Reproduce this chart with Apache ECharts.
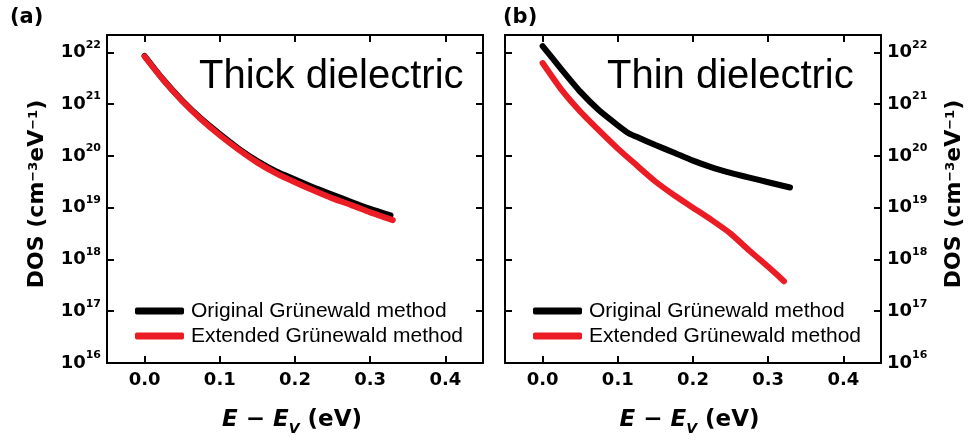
<!DOCTYPE html>
<html>
<head>
<meta charset="utf-8">
<script src="https://cdn.jsdelivr.net/npm/echarts@6/dist/echarts.min.js"></script>
<style>
html, body { margin: 0; padding: 0; background: #fff; }
#chart { width: 971px; height: 443px; }
</style>
</head>
<body>
<div id="chart"></div>
<script>
// energy E - Ev (eV) and DOS (cm^-3 eV^-1)
const thickOrigEnergy = [0, 0.025, 0.05, 0.075, 0.1, 0.125, 0.15, 0.175, 0.2, 0.225, 0.25, 0.275, 0.3, 0.327];
const thickOrigDos = [8.5e21, 2.95e21, 1.17e21, 5.25e20, 2.63e20, 1.38e20, 7.9e19, 5.0e19, 3.5e19, 2.45e19, 1.78e19, 1.29e19, 9.5e18, 7.1e18];
const thickExtEnergy = [0, 0.025, 0.05, 0.075, 0.1, 0.125, 0.15, 0.175, 0.2, 0.225, 0.25, 0.275, 0.3, 0.33];
const thickExtDos = [8.3e21, 2.9e21, 1.15e21, 5.1e20, 2.5e20, 1.32e20, 7.4e19, 4.6e19, 3.1e19, 2.14e19, 1.51e19, 1.12e19, 8.1e18, 5.75e18];

const thinOrigEnergy = [0, 0.025, 0.05, 0.075, 0.1, 0.115, 0.125, 0.15, 0.175, 0.2, 0.225, 0.25, 0.275, 0.3, 0.329];
const thinOrigDos = [1.32e22, 4.7e21, 1.74e21, 7.6e20, 3.9e20, 2.7e20, 2.34e20, 1.62e20, 1.15e20, 8.1e19, 6.0e19, 4.7e19, 3.8e19, 3.1e19, 2.45e19];
const thinExtEnergy = [0, 0.025, 0.05, 0.075, 0.1, 0.125, 0.15, 0.175, 0.2, 0.225, 0.25, 0.275, 0.3, 0.321];
const thinExtDos = [6.2e21, 1.9e21, 7.2e20, 3.1e20, 1.38e20, 6.6e19, 3.2e19, 1.74e19, 1.0e19, 5.75e18, 3.16e18, 1.48e18, 7.2e17, 3.8e17];

const xTicks = [0, 0.1, 0.2, 0.3, 0.4];
const yTicks = [1e16, 1e17, 1e18, 1e19, 1e20, 1e21, 1e22];
const seriesNames = ['Original Grünewald method', 'Extended Grünewald method'];
const panelTitles = ['Thick dielectric', 'Thin dielectric'];
const panelTags = ['(a)', '(b)'];

const xMin = -0.05, xMax = 0.45;
const yMin = 1e16, yMax = 2.16e22;

const boldFont = 'DejaVu Sans';
const plainFont = '"Liberation Sans", Arial, sans-serif';
const black = '#000';
const red = '#ec1c24';

const chart = echarts.init(document.getElementById('chart'));

const lineStyle = {color: black, width: 2};

function pairs(xs, ys) {
  return xs.map((x, i) => [x, ys[i]]);
}

function xAxis(grid, position, withLabels, namePad) {
  return {
    gridIndex: grid,
    type: 'value',
    position: position,
    min: xMin,
    max: xMax,
    axisLine: {show: true, onZero: false, lineStyle: lineStyle},
    axisTick: {show: true, inside: true, length: 7, lineStyle: lineStyle, customValues: xTicks},
    axisLabel: {
      show: withLabels,
      customValues: xTicks,
      margin: 8,
      formatter: v => v.toFixed(1),
      fontFamily: boldFont,
      fontWeight: 'bold',
      fontSize: 18,
      lineHeight: 18,
      color: black
    },
    splitLine: {show: false},
    name: withLabels ? '{i|E}{b| − }{i|E}{sub|V}{b| (eV)}' : '',
    nameLocation: 'middle',
    nameGap: 46,
    nameTextStyle: {
      padding: [0, namePad, 0, 0],
      rich: {
        i: {fontFamily: boldFont, fontWeight: 'bold', fontStyle: 'italic', fontSize: 23, lineHeight: 23, verticalAlign: 'top', color: black},
        b: {fontFamily: boldFont, fontWeight: 'bold', fontSize: 23, lineHeight: 23, verticalAlign: 'top', color: black},
        sub: {fontFamily: boldFont, fontWeight: 'bold', fontStyle: 'italic', fontSize: 14, lineHeight: 14, padding: [13, 0, 0, 0], verticalAlign: 'top', color: black}
      }
    }
  };
}

function yAxis(grid, position, withLabels, gap) {
  return {
    gridIndex: grid,
    type: 'log',
    logBase: 10,
    position: position,
    min: yMin,
    max: yMax,
    axisLine: {show: true, onZero: false, lineStyle: lineStyle},
    axisTick: {show: true, inside: true, length: 7, lineStyle: lineStyle, customValues: yTicks},
    axisLabel: {
      show: withLabels,
      customValues: yTicks,
      margin: 6,
      formatter: v => '{b|10}{s|' + Math.round(Math.log10(v)) + '}',
      rich: {
        b: {fontFamily: boldFont, fontWeight: 'bold', fontSize: 18, lineHeight: 18, verticalAlign: 'bottom', color: black},
        s: {fontFamily: boldFont, fontWeight: 'bold', fontSize: 11, lineHeight: 11, padding: [0, 0, 11, 0], verticalAlign: 'bottom', color: black}
      }
    },
    splitLine: {show: false},
    name: withLabels ? '{b|DOS (cm}{s|−3}{b|eV}{s|−1}{b|)}' : '',
    nameLocation: 'middle',
    nameRotate: 90,
    nameGap: gap,
    nameTextStyle: {
      padding: [0, 0, 0, 10],
      rich: {
        b: {fontFamily: boldFont, fontWeight: 'bold', fontSize: 22, lineHeight: 22, verticalAlign: 'bottom', color: black},
        s: {fontFamily: boldFont, fontWeight: 'bold', fontSize: 13, lineHeight: 13, padding: [0, 0, 8, 0], verticalAlign: 'bottom', color: black}
      }
    }
  };
}

function curve(name, color, xIdx, yIdx, xs, ys) {
  return {
    name: name,
    type: 'line',
    xAxisIndex: xIdx,
    yAxisIndex: yIdx,
    data: pairs(xs, ys),
    showSymbol: false,
    symbol: 'none',
    smooth: 0.2,
    lineStyle: {color: color, width: 6, cap: 'round', join: 'round'},
    itemStyle: {color: color}
  };
}

function legend(left) {
  return {
    data: seriesNames,
    orient: 'vertical',
    left: left,
    top: 300,
    padding: 0,
    itemGap: 3,
    itemWidth: 49,
    itemHeight: 7,
    icon: 'roundRect',
    selectedMode: false,
    textStyle: {fontFamily: plainFont, fontSize: 21, lineHeight: 22, color: black, padding: [0, 0, 0, 2]}
  };
}

function label(text, x, y, font) {
  return {type: 'text', x: x, y: y, style: {text: text, font: font, fill: black, align: 'left', verticalAlign: 'middle'}};
}

const option = {
  animation: false,
  backgroundColor: '#fff',
  grid: [
    {left: 107, top: 35, width: 376, height: 328},
    {left: 505, top: 35, width: 376, height: 328}
  ],
  xAxis: [
    xAxis(0, 'bottom', true, 6),
    xAxis(0, 'top', false, 0),
    xAxis(1, 'bottom', true, 7),
    xAxis(1, 'top', false, 0)
  ],
  yAxis: [
    yAxis(0, 'left', true, 59),
    yAxis(0, 'right', false, 0),
    yAxis(1, 'left', false, 0),
    yAxis(1, 'right', true, 62)
  ],
  legend: [legend(135), legend(533)],
  series: [
    curve(seriesNames[0], black, 0, 0, thickOrigEnergy, thickOrigDos),
    curve(seriesNames[1], red, 0, 0, thickExtEnergy, thickExtDos),
    curve(seriesNames[0], black, 2, 3, thinOrigEnergy, thinOrigDos),
    curve(seriesNames[1], red, 2, 3, thinExtEnergy, thinExtDos)
  ],
  graphic: [
    label(panelTags[0], 10, 18, 'bold 21px "DejaVu Sans"'),
    label(panelTags[1], 503, 18, 'bold 21px "DejaVu Sans"'),
    label(panelTitles[0], 199, 77, '40px "Liberation Sans"'),
    label(panelTitles[1], 607, 77, '40px "Liberation Sans"')
  ]
};

chart.setOption(option);
</script>
</body>
</html>
